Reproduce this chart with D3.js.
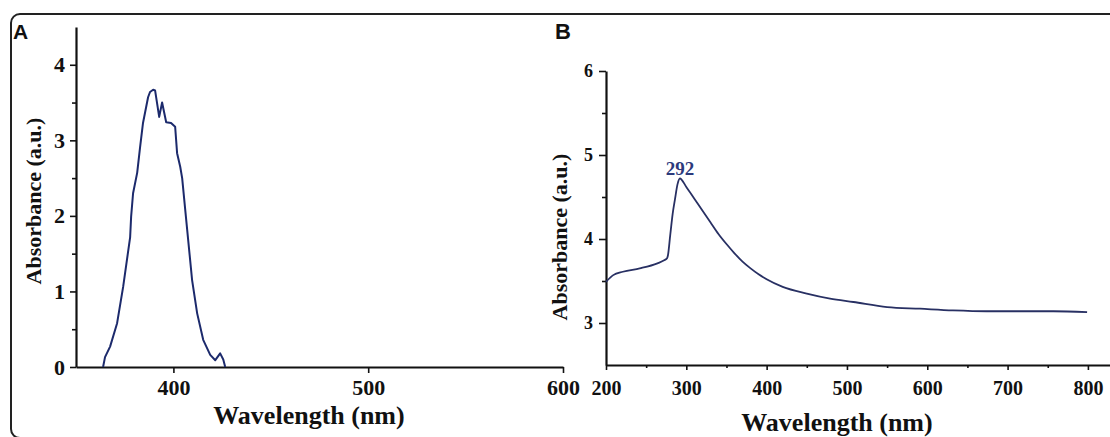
<!DOCTYPE html>
<html>
<head>
<meta charset="utf-8">
<script src="https://cdn.jsdelivr.net/npm/d3@7"></script>
<style>
    body { margin: 0; background: #fff; }
    svg { display: block; }
</style>
</head>
<body>
<svg id="chart" width="1110" height="437"></svg>
<script>
// Données du panneau A (longueur d'onde en nm, absorbance)
const longueursA = [363.9, 364.9, 367.5, 371.1, 374.2, 377.8, 378.3, 379.3, 381.4, 382.9, 384.4, 387.0, 388.0, 389.6, 390.6,
    392.7, 394.2, 396.3, 398.8, 400.9, 401.9, 403.5, 404.5, 406.0, 409.6, 412.2, 415.3, 418.9, 421.5, 424.0, 425.6, 426.6];
const absorbA = [0, 0.13, 0.27, 0.58, 1.06, 1.72, 1.99, 2.3, 2.57, 2.91, 3.23, 3.57, 3.64, 3.67, 3.66,
    3.31, 3.5, 3.24, 3.23, 3.18, 2.83, 2.65, 2.5, 2.1, 1.15, 0.71, 0.36, 0.16, 0.09, 0.18, 0.1, 0];

// Données du panneau B
const longueursB = [200, 209, 221, 242, 264, 273, 276, 277, 280, 283, 286, 289, 292, 300, 310, 320, 330, 340, 350, 360,
    370, 380, 390, 400, 420, 450, 479, 508, 550, 591, 632, 674, 716, 757, 799];
const absorbB = [3.49, 3.57, 3.61, 3.65, 3.71, 3.75, 3.77, 3.8, 4.05, 4.3, 4.48, 4.65, 4.72, 4.62, 4.48, 4.34, 4.2, 4.06, 3.94, 3.83,
    3.73, 3.65, 3.58, 3.52, 3.43, 3.35, 3.29, 3.25, 3.19, 3.17, 3.15, 3.14, 3.14, 3.14, 3.13];

// Graduations
const ticksXA = [400, 500, 600];
const ticksYA = [0, 1, 2, 3, 4];
const minorYA = [0.5, 1.5, 2.5, 3.5];
const ticksXB = [200, 300, 400, 500, 600, 700, 800];
const minorXB = [250, 350, 450, 550, 650, 750];
const ticksYB = [3, 4, 5, 6];
const minorYB = [3.5, 4.5, 5.5];
const picB = 292;

const svg = d3.select("#chart");
const serif = "'Liberation Serif', 'Times New Roman', serif";
const couleurA = "#1c2a6c";
const couleurB = "#283063";

// Cadre arrondi autour de la figure
svg.append("rect")
    .attr("x", 11).attr("y", 14)
    .attr("width", 1130).attr("height", 424)
    .attr("rx", 9)
    .attr("fill", "none")
    .attr("stroke", "#222")
    .attr("stroke-width", 2);

// Petite fonction pour styliser un axe
function styleAxe(g, taille) {
    g.attr("font-family", serif)
        .attr("font-size", taille)
        .attr("font-weight", "bold");
    g.selectAll("line").attr("stroke", "#111").attr("stroke-width", 1.6);
    g.selectAll(".domain").attr("stroke", "#111").attr("stroke-width", 2.2);
    g.selectAll("text").attr("fill", "#111");
}

const entier = d3.format("d");

// ---------- Panneau A ----------
const xA = d3.scaleLinear().domain([350, 600]).range([76, 563]);
const yA = d3.scaleLinear().domain([0, 4.5]).range([367, 27]);

const axeXA = svg.append("g")
    .attr("transform", `translate(0, ${yA(0)})`)
    .call(d3.axisBottom(xA).tickValues(ticksXA).tickFormat(entier).tickSize(6).tickSizeOuter(0));
styleAxe(axeXA, 22);
axeXA.selectAll("text").attr("y", 28).attr("dy", null);

svg.append("g")
    .attr("transform", `translate(${xA(350)}, 0)`)
    .call(d3.axisLeft(yA).tickValues(minorYA).tickSize(4).tickFormat(""))
    .call(g => g.select(".domain").remove())
    .selectAll("line").attr("stroke", "#111").attr("stroke-width", 1.6);

const axeYA = svg.append("g")
    .attr("transform", `translate(${xA(350)}, 0)`)
    .call(d3.axisLeft(yA).tickValues(ticksYA).tickFormat(entier).tickSize(6).tickSizeOuter(0));
styleAxe(axeYA, 22);
axeYA.selectAll("text").attr("x", -11);

svg.append("path")
    .datum(d3.zip(longueursA, absorbA))
    .attr("fill", "none")
    .attr("stroke", couleurA)
    .attr("stroke-width", 2)
    .attr("stroke-linejoin", "round")
    .attr("d", d3.line().x(d => xA(d[0])).y(d => yA(d[1])));

svg.append("text")
    .attr("x", 309).attr("y", 424)
    .attr("text-anchor", "middle")
    .attr("font-family", serif).attr("font-weight", "bold").attr("font-size", 26)
    .attr("fill", "#111")
    .text("Wavelength (nm)");

svg.append("text")
    .attr("transform", "translate(41, 201) rotate(-90)")
    .attr("text-anchor", "middle")
    .attr("font-family", serif).attr("font-weight", "bold").attr("font-size", 22)
    .attr("fill", "#111")
    .text("Absorbance (a.u.)");

svg.append("text")
    .attr("x", 13).attr("y", 39)
    .attr("font-family", "'Liberation Sans', Arial, sans-serif").attr("font-weight", "bold").attr("font-size", 21)
    .attr("fill", "#111")
    .text("A");

// ---------- Panneau B ----------
const xB = d3.scaleLinear().domain([200, 830]).range([606, 1112]);
const yB = d3.scaleLinear().domain([2.5, 6]).range([365, 71]);

svg.append("g")
    .attr("transform", `translate(0, ${yB(2.5)})`)
    .call(d3.axisBottom(xB).tickValues(minorXB).tickSize(3).tickFormat(""))
    .call(g => g.select(".domain").remove())
    .selectAll("line").attr("stroke", "#111").attr("stroke-width", 1.6);

const axeXB = svg.append("g")
    .attr("transform", `translate(0, ${yB(2.5)})`)
    .call(d3.axisBottom(xB).tickValues(ticksXB).tickFormat(entier).tickSize(5).tickSizeOuter(0));
styleAxe(axeXB, 20);
axeXB.selectAll("text").attr("y", 30).attr("dy", null);

svg.append("g")
    .attr("transform", `translate(${xB(200)}, 0)`)
    .call(d3.axisLeft(yB).tickValues(minorYB).tickSize(4).tickFormat(""))
    .call(g => g.select(".domain").remove())
    .selectAll("line").attr("stroke", "#111").attr("stroke-width", 1.6);

const axeYB = svg.append("g")
    .attr("transform", `translate(${xB(200)}, 0)`)
    .call(d3.axisLeft(yB).tickValues(ticksYB).tickFormat(entier).tickSize(7).tickSizeOuter(0));
styleAxe(axeYB, 18);
axeYB.selectAll("text").attr("x", -13);

svg.append("path")
    .datum(d3.zip(longueursB, absorbB))
    .attr("fill", "none")
    .attr("stroke", couleurB)
    .attr("stroke-width", 1.8)
    .attr("stroke-linejoin", "round")
    .attr("d", d3.line().curve(d3.curveMonotoneX).x(d => xB(d[0])).y(d => yB(d[1])));

// Étiquette du pic
svg.append("text")
    .attr("x", xB(picB)).attr("y", yB(absorbB[longueursB.indexOf(picB)]) - 4)
    .attr("text-anchor", "middle")
    .attr("font-family", serif).attr("font-weight", "bold").attr("font-size", 19)
    .attr("fill", "#2c3a7c")
    .text(picB);

svg.append("text")
    .attr("x", 837).attr("y", 431)
    .attr("text-anchor", "middle")
    .attr("font-family", serif).attr("font-weight", "bold").attr("font-size", 26)
    .attr("fill", "#111")
    .text("Wavelength (nm)");

svg.append("text")
    .attr("transform", "translate(567, 237) rotate(-90)")
    .attr("text-anchor", "middle")
    .attr("font-family", serif).attr("font-weight", "bold").attr("font-size", 22)
    .attr("fill", "#111")
    .text("Absorbance (a.u.)");

svg.append("text")
    .attr("x", 555).attr("y", 39)
    .attr("font-family", "'Liberation Sans', Arial, sans-serif").attr("font-weight", "bold").attr("font-size", 22)
    .attr("fill", "#111")
    .text("B");
</script>
</body>
</html>
